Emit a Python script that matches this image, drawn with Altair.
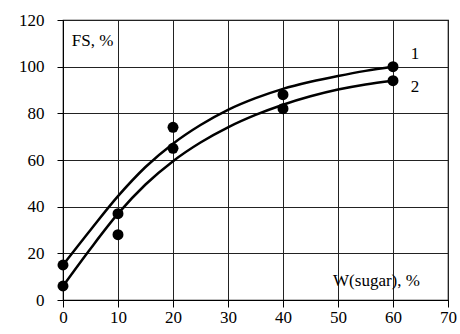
import altair as alt
import pandas as pd

# measured points
pt_x = [0, 10, 20, 40, 60]
pt_y1 = [15, 37, 74, 88, 100]
pt_y2 = [6, 28, 65, 82, 94]

# curve values
cx = [0, 5, 10, 15, 20, 25, 30, 35, 40, 45, 50, 55, 60]
curve1 = [15, 30, 44.5, 57, 67, 75, 81.5, 86.5, 90.5, 93.5, 96, 98.2, 100]
curve2 = [6, 22, 37, 49.5, 59.5, 67.5, 74, 79.3, 83.7, 87.3, 90.2, 92.4, 94]

labels_txt = ["1", "2"]
labels_x = [64, 64]
labels_y = [105.5, 91.3]

FONT = "Liberation Serif"

pts = pd.DataFrame({"x": pt_x * 2, "y": pt_y1 + pt_y2,
                    "s": ["1"] * len(pt_x) + ["2"] * len(pt_x)})
cur = pd.DataFrame({"x": cx * 2, "y": curve1 + curve2,
                    "s": ["1"] * len(cx) + ["2"] * len(cx)})
lab = pd.DataFrame({"t": labels_txt, "x": labels_x, "y": labels_y})
ann = pd.DataFrame({"t": ["FS, %", "W(sugar), %"], "x": [1.6, 57], "y": [111, 8],
                    "a": ["left", "center"]})

xs = alt.Scale(domain=[0, 70], nice=False, zero=False)
ys = alt.Scale(domain=[0, 120], nice=False, zero=False)

xax = alt.Axis(values=list(range(0, 71, 10)), title=None, grid=True,
               gridColor="#222", gridOpacity=1, gridWidth=1,
               domainColor="#000", tickColor="#000", tickSize=7,
               labelFont=FONT, labelFontSize=17, labelColor="#000",
               labelPadding=2, labelFlush=False)
yax = alt.Axis(values=list(range(0, 121, 20)), title=None, grid=True,
               gridColor="#222", gridOpacity=1, gridWidth=1,
               domainColor="#000", tickColor="#000", tickSize=6,
               labelFont=FONT, labelFontSize=17, labelColor="#000",
               labelPadding=13)

lines = alt.Chart(cur).mark_line(color="#000", strokeWidth=2.5, interpolate="monotone").encode(
    x=alt.X("x:Q", scale=xs, axis=xax),
    y=alt.Y("y:Q", scale=ys, axis=yax),
    detail="s:N",
)
dots = alt.Chart(pts).mark_circle(color="#000", opacity=1, size=120).encode(
    x=alt.X("x:Q", scale=xs), y=alt.Y("y:Q", scale=ys)
)
nums = alt.Chart(lab).mark_text(font=FONT, fontSize=17, color="#000", align="center",
                                baseline="middle").encode(
    x=alt.X("x:Q", scale=xs), y=alt.Y("y:Q", scale=ys), text="t:N"
)
ann_l = alt.Chart(ann[ann.a == "left"]).mark_text(font=FONT, fontSize=17, color="#000",
                                                 align="left", baseline="middle").encode(
    x=alt.X("x:Q", scale=xs), y=alt.Y("y:Q", scale=ys), text="t:N"
)
ann_c = alt.Chart(ann[ann.a == "center"]).mark_text(font=FONT, fontSize=17, color="#000",
                                                   align="center", baseline="middle").encode(
    x=alt.X("x:Q", scale=xs), y=alt.Y("y:Q", scale=ys), text="t:N"
)

chart = alt.layer(lines, dots, nums, ann_l, ann_c).properties(
    width=385, height=280,
    autosize=alt.AutoSizeParams(type="none"),
    padding={"left": 63, "top": 20, "right": 12, "bottom": 34},
    background="white",
).configure_view(stroke="#000", strokeWidth=1.2)

chart.save("out.html", embed_options={"renderer": "svg", "actions": False})
